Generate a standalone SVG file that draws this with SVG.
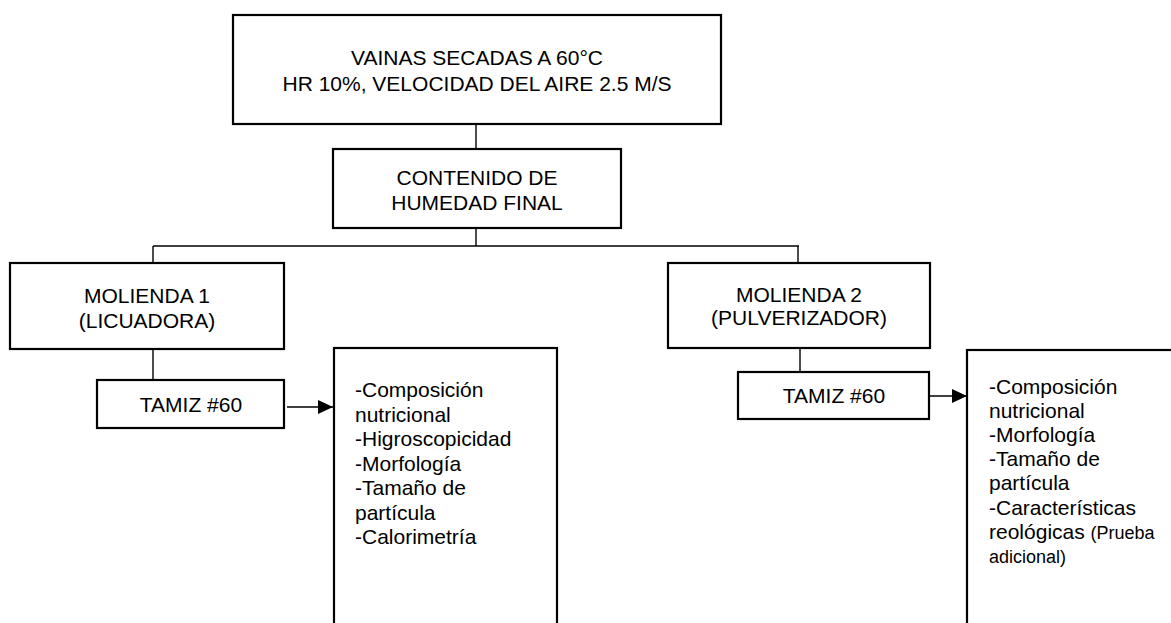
<svg xmlns="http://www.w3.org/2000/svg" width="1171" height="623" viewBox="0 0 1171 623">
<defs>
<style>
.box{fill:#fff;stroke:#000;stroke-width:2.2}
.con{fill:none;stroke:#000;stroke-width:1.4}
text{font-family:"Liberation Sans",Arial,sans-serif;font-size:21px;fill:#000}
.c{text-anchor:middle}
.s{font-size:18px}
</style>
<marker id="ah" markerUnits="userSpaceOnUse" markerWidth="16" markerHeight="16" refX="15" refY="7" orient="auto">
<path d="M0,0 L15,7 L0,14 Z" fill="#000"/>
</marker>
</defs>
<rect width="1171" height="623" fill="#fff"/>
<g id="connectors">
<line class="con" x1="476" y1="124" x2="476" y2="149"/>
<line class="con" x1="476" y1="228" x2="476" y2="246"/>
<line class="con" x1="153" y1="246" x2="799" y2="246"/>
<line class="con" x1="153" y1="246" x2="153" y2="263"/>
<line class="con" x1="798" y1="246" x2="798" y2="263"/>
<line class="con" x1="153" y1="349" x2="153" y2="380"/>
<line class="con" x1="800" y1="348" x2="800" y2="372"/>
<line class="con" x1="287" y1="407" x2="333" y2="407" marker-end="url(#ah)"/>
<line class="con" x1="929" y1="396" x2="967" y2="396" marker-end="url(#ah)"/>
</g>
<g id="n-vainas">
<rect class="box" x="233" y="15" width="488" height="109"/>
<text class="c" x="477" y="65">VAINAS SECADAS A 60°C</text>
<text class="c" x="477" y="91">HR 10%, VELOCIDAD DEL AIRE 2.5 M/S</text>
</g>
<g id="n-contenido">
<rect class="box" x="333" y="149" width="288" height="79"/>
<text class="c" x="477" y="185">CONTENIDO DE</text>
<text class="c" x="477" y="210">HUMEDAD FINAL</text>
</g>
<g id="n-molienda1">
<rect class="box" x="10" y="263" width="274" height="86"/>
<text class="c" x="147" y="303">MOLIENDA 1</text>
<text class="c" x="147" y="328">(LICUADORA)</text>
</g>
<g id="n-molienda2">
<rect class="box" x="668" y="263" width="262" height="85"/>
<text class="c" x="799" y="302">MOLIENDA 2</text>
<text class="c" x="799" y="325">(PULVERIZADOR)</text>
</g>
<g id="n-tamiz1">
<rect class="box" x="97" y="380" width="187" height="48"/>
<text class="c" x="191" y="412">TAMIZ #60</text>
</g>
<g id="n-tamiz2">
<rect class="box" x="738" y="372" width="191" height="47"/>
<text class="c" x="834" y="403">TAMIZ #60</text>
</g>
<g id="n-result1">
<rect class="box" x="334" y="348" width="223" height="300"/>
<text x="355" y="397">-Composición</text>
<text x="355" y="422">nutricional</text>
<text x="355" y="446">-Higroscopicidad</text>
<text x="355" y="471">-Morfología</text>
<text x="355" y="495">-Tamaño de</text>
<text x="355" y="520">partícula</text>
<text x="355" y="544">-Calorimetría</text>
</g>
<g id="n-result2">
<rect class="box" x="967" y="350" width="240" height="300"/>
<text x="989" y="394">-Composición</text>
<text x="989" y="418">nutricional</text>
<text x="989" y="442">-Morfología</text>
<text x="989" y="466">-Tamaño de</text>
<text x="989" y="490">partícula</text>
<text x="989" y="515">-Características</text>
<text x="989" y="539">reológicas <tspan class="s">(Prueba</tspan></text>
<text x="989" y="563" class="s">adicional)</text>
</g>
</svg>
